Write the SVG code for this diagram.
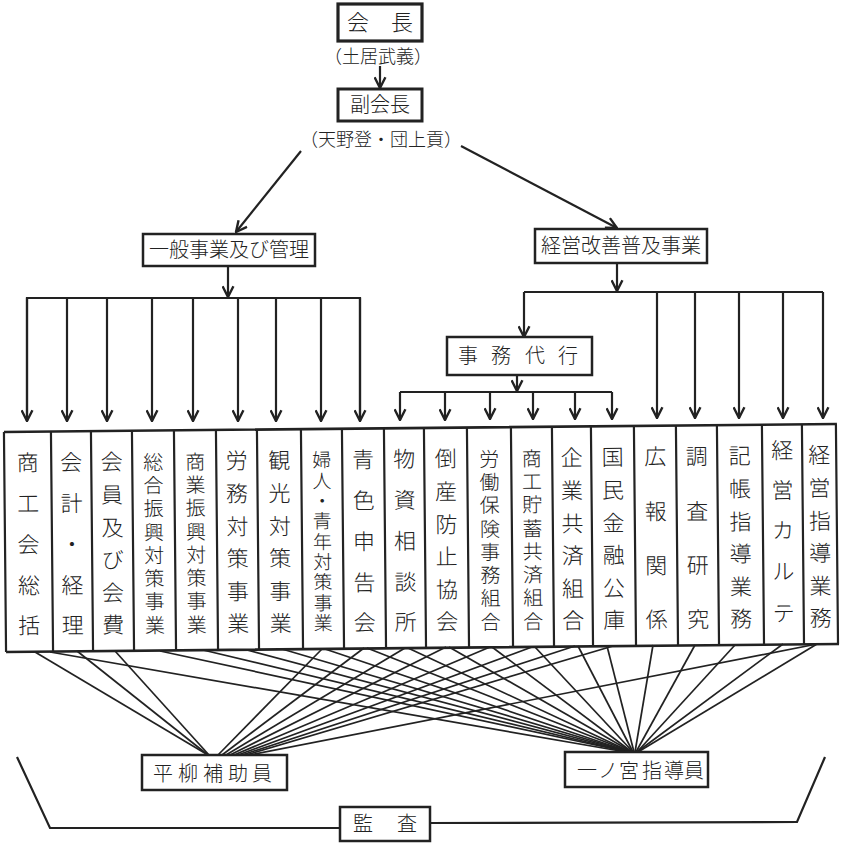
<svg xmlns="http://www.w3.org/2000/svg" width="841" height="843" viewBox="0 0 841 843">
<defs>
<style>
text{font-family:"Noto Sans CJK JP","Noto Sans CJK SC",sans-serif;fill:#222;text-anchor:middle;font-weight:300}
.box{fill:#fff;stroke:#222;stroke-width:2.5}
.ln{fill:none;stroke:#222;stroke-width:2.2}
.thin{fill:none;stroke:#222;stroke-width:1.7}
.arr{fill:none;stroke:#222;stroke-width:2.2;marker-end:url(#ah)}
.t20{font-size:20px}
.t22{font-size:22px}
.t19{font-size:19px}
.t18{font-size:18px}
</style>
<marker id="ah" viewBox="0 0 12 12" markerWidth="13" markerHeight="13" refX="11" refY="6" orient="auto" markerUnits="userSpaceOnUse">
<path d="M1,1 L11,6 L1,11" fill="none" stroke="#222" stroke-width="2.2"/>
</marker>
</defs>
<rect width="841" height="843" fill="#fff"/>

<g id="kaicho">
<rect class="box" x="338" y="4" width="84" height="37" style="stroke-width:3.2"/>
<text class="t22" x="358 402" y="30 30">会長</text>
<text class="t18" x="378" y="63">（土居武義）</text>
</g>

<g id="fukukaicho">
<rect class="box" x="338" y="89" width="84" height="32" style="stroke-width:3"/>
<text class="t20" x="380" y="112">副会長</text>
<text class="t18" x="381" y="146">（天野登・団上貢）</text>
</g>

<g id="ippan">
<rect class="box" x="143" y="234" width="172" height="32"/>
<text class="t20" x="229" y="257">一般事業及び管理</text>
</g>

<g id="keiei">
<rect class="box" x="535" y="229" width="172" height="34"/>
<text class="t20" x="621" y="253">経営改善普及事業</text>
</g>

<g id="jimu">
<rect class="box" x="447" y="337" width="145" height="38"/>
<text class="t20" x="468 501 535 568" y="363 363 363 363">事務代行</text>
</g>

<g id="connectors">
<path class="arr" d="M380,66 L380,88"/>
<path class="arr" d="M301,151 L236,232"/>
<path class="arr" d="M461,146 L617,228"/>
<path class="arr" d="M228,266 L228,297"/>
<path class="ln" d="M27,421 L27,298 L360,298 L360,420"/>
<path class="arr" d="M27,298 L27,421"/>
<path class="arr" d="M67,298 L67,421"/>
<path class="arr" d="M107,298 L107,421"/>
<path class="arr" d="M152,298 L152,421"/>
<path class="arr" d="M193,298 L193,421"/>
<path class="arr" d="M238,298 L238,421"/>
<path class="arr" d="M276,298 L276,421"/>
<path class="arr" d="M321,298 L321,421"/>
<path class="arr" d="M360,298 L360,421"/>
<path class="arr" d="M617,263 L617,291"/>
<path class="ln" d="M524,292 L823,292"/>
<path class="arr" d="M524,292 L524,337"/>
<path class="arr" d="M657,292 L657,418"/>
<path class="arr" d="M695,292 L695,418"/>
<path class="arr" d="M739,292 L739,418"/>
<path class="arr" d="M783,292 L783,418"/>
<path class="arr" d="M823,292 L823,418"/>
<path class="arr" d="M517,375 L517,391"/>
<path class="ln" d="M400,392 L612,392"/>
<path class="arr" d="M400,392 L400,420"/>
<path class="arr" d="M445,392 L445,420"/>
<path class="arr" d="M490,392 L490,419"/>
<path class="arr" d="M533,392 L533,419"/>
<path class="arr" d="M575,392 L575,419"/>
<path class="arr" d="M612,392 L612,419"/>

<g class="thin">
<path d="M35,652 L208,755"/>
<path d="M77,651 L208,755"/>
<path d="M115,651 L209,755"/>
<path d="M322,649 L218,755"/>
<path d="M364,648 L222,755"/>
<path d="M405,648 L226,755"/>
<path d="M446,647 L230,755"/>
<path d="M490,647 L234,755"/>
<path d="M532,647 L238,755"/>
<path d="M575,646 L242,755"/>
<path d="M613,646 L246,755"/>
<path d="M817,644 L250,755"/>

<path d="M50,652 L626,752"/>
<path d="M160,651 L628,752"/>
<path d="M203,650 L628,752"/>
<path d="M247,650 L629,752"/>
<path d="M282,649 L630,752"/>
<path d="M325,649 L630,752"/>
<path d="M367,648 L631,752"/>
<path d="M408,648 L631,752"/>
<path d="M449,647 L632,752"/>
<path d="M492,647 L632,752"/>
<path d="M535,647 L633,752"/>
<path d="M578,646 L633,752"/>
<path d="M607,646 L634,752"/>
<path d="M653,645 L635,752"/>
<path d="M695,645 L636,752"/>
<path d="M735,645 L637,752"/>
<path d="M783,644 L637,752"/>
<path d="M817,644 L638,752"/>
</g>

<path class="ln" d="M17,757 L50,828 L340,828"/>
<path class="ln" d="M430,823 L797,822 L825,757"/>
</g>

<g id="columns" transform="rotate(-0.55 420 540)">
<path class="ln" d="M5,428 L838,428 M5,648 L838,648" style="stroke-width:2.6"/>
<path class="ln" d="M5,428V648 M52,428V648 M92,428V648 M133,428V648 M175,428V648 M217,428V648 M258,428V648 M302,428V648 M343,428V648 M385,428V648 M425,428V648 M468,428V648 M512,428V648 M553,428V648 M592,428V648 M635,428V648 M677,428V648 M718,428V648 M763,428V648 M803,428V648 M837,428V648"/>
</g>

<g transform="rotate(-0.55 420 540)">
<g id="c01"><text class="t22" x="28.5 28.5 28.5 28.5 28.5" y="467 508 549 590 630">商工会総括</text></g>
<g id="c02"><text class="t22" x="72 72 72 72 72" y="467 508 549 590 630">会計・経理</text></g>
<g id="c03"><text class="t22" x="112.5 112.5 112.5 112.5 112.5 112.5" y="467 500 533 565 598 630">会員及び会費</text></g>
<g id="c04"><text class="t20" x="154 154 154 154 154 154 154 154" y="467 490 513 537 560 583 606 630">総合振興対策事業</text></g>
<g id="c05"><text class="t20" x="196 196 196 196 196 196 196 196" y="467 490 513 537 560 583 606 630">商業振興対策事業</text></g>
<g id="c06"><text class="t22" x="237.5 237.5 237.5 237.5 237.5 237.5" y="467 500 533 565 598 630">労務対策事業</text></g>
<g id="c07"><text class="t22" x="280 280 280 280 280 280" y="467 500 533 565 598 630">観光対策事業</text></g>
<g id="c08"><text class="t19" x="322.5 322.5 322.5 322.5 322.5 322.5 322.5 322.5 322.5" y="466 487 507 527 548 568 588 609 629">婦人・青年対策事業</text></g>
<g id="c09"><text class="t22" x="364 364 364 364 364" y="467 508 549 590 630">青色申告会</text></g>
<g id="c10"><text class="t22" x="405 405 405 405 405" y="467 508 549 590 630">物資相談所</text></g>
<g id="c11"><text class="t22" x="446.5 446.5 446.5 446.5 446.5 446.5" y="467 500 533 565 598 630">倒産防止協会</text></g>
<g id="c12"><text class="t20" x="490 490 490 490 490 490 490 490" y="467 490 513 537 560 583 606 630">労働保険事務組合</text></g>
<g id="c13"><text class="t20" x="532.5 532.5 532.5 532.5 532.5 532.5 532.5 532.5" y="467 490 513 537 560 583 606 630">商工貯蓄共済組合</text></g>
<g id="c14"><text class="t22" x="572.5 572.5 572.5 572.5 572.5 572.5" y="467 500 533 565 598 630">企業共済組合</text></g>
<g id="c15"><text class="t22" x="613.5 613.5 613.5 613.5 613.5 613.5" y="467 500 533 565 598 630">国民金融公庫</text></g>
<g id="c16"><text class="t22" x="656 656 656 656" y="467 522 576 630">広報関係</text></g>
<g id="c17"><text class="t22" x="697.5 697.5 697.5 697.5" y="467 522 576 630">調査研究</text></g>
<g id="c18"><text class="t22" x="740.5 740.5 740.5 740.5 740.5 740.5" y="467 500 533 565 598 630">記帳指導業務</text></g>
<g id="c19"><text class="t22" x="783 783 783 783 783" y="462 502 542 583 625">経営カルテ</text></g>
<g id="c20"><text class="t22" x="820 820 820 820 820 820" y="467 500 533 565 598 630">経営指導業務</text></g>
</g>

<g id="hirayanagi">
<rect class="box" x="142" y="755" width="145" height="35"/>
<text class="t20" x="163 188 213 238 262" y="781 781 781 781 781">平柳補助員</text>
</g>

<g id="ichinomiya">
<rect class="box" x="565" y="752" width="143" height="35"/>
<text class="t20" x="587 608 629 652 674 694" y="778 778 778 778 778 778">一ノ宮指導員</text>
</g>

<g id="kansa">
<rect class="box" x="340" y="807" width="90" height="34"/>
<text class="t20" x="363 407" y="831 831">監査</text>
</g>
</svg>
